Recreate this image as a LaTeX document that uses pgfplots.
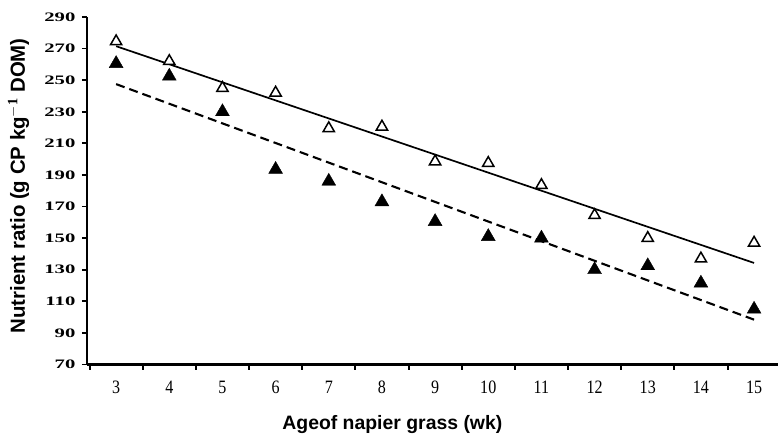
\documentclass[border=0pt]{standalone}
\usepackage{graphicx}
\usepackage{pgfplots}
\pgfplotsset{compat=1.18}
\usepackage{fontspec}
\setmainfont{Liberation Serif}
\newfontfamily\labelfont{Liberation Sans}
\begin{document}
\begin{tikzpicture}
\begin{axis}[
  name=ax,
  scale only axis,
  width=692bp, height=348bp,
  xmin=2.45, xmax=15.45,
  ymin=70, ymax=290,
  axis lines=left,
  axis line style={-, line width=2.6bp},
  ytick={70,90,...,290},
  xtick={3,...,15},
  minor xtick={2.5,3.5,...,15.5},
  major x tick style={draw=none},
  minor x tick style={line width=2bp, black},
  y tick style={line width=1.8bp, black},
  tick align=outside,
  major tick length=5bp,
  minor tick length=5bp,
  /pgf/number format/assume math mode=true,
  yticklabel={\scalebox{1.6}[1]{\pgfmathprintnumber{\tick}}},
  yticklabel style={font=\fontsize{13}{14}\selectfont\bfseries, xshift=-3bp},
  xticklabel={\scalebox{0.85}[1]{\pgfmathprintnumber{\tick}}},
  xticklabel style={font=\fontsize{19}{21}\selectfont, yshift=-8bp},
  xlabel={\labelfont\bfseries Ageof napier grass (wk)},
  ylabel={\labelfont\bfseries Nutrient ratio (g CP kg$^{\mathbf{-1}}$ DOM)},
  xlabel style={font=\fontsize{19.5}{21}\selectfont, at={(axis description cs:0.442,-0.172)}, anchor=center},
  ylabel style={font=\fontsize{20.5}{22}\selectfont, at={(axis description cs:-0.099,0.514)}, anchor=center},
  clip=false,
]
% open triangles
\addplot[only marks, mark=triangle*, mark size=6.5bp, mark options={fill=white, draw=black, line width=1.5bp}]
  coordinates {(3,274.5) (4,262) (5,245) (6,242) (7,219.5) (8,220.5) (9,198.5) (10,197.5) (11,183.5) (12,164.5) (13,150) (14,137) (15,147)};
% filled triangles
\addplot[only marks, mark=triangle*, mark size=8bp, mark options={fill=black, draw=black}]
  coordinates {(3,260.5) (4,252.5) (5,230) (6,193.5) (7,186) (8,173) (9,160.5) (10,151) (11,150) (12,130) (13,132.5) (14,121.5) (15,105)};
% regression lines
\addplot[black, line width=1.7bp] coordinates {(3,271.5) (15,134.3)};
\addplot[black, line width=2.1bp, dash pattern=on 9bp off 5bp] coordinates {(3,247.5) (15,98.4)};
\end{axis}
\pgfresetboundingbox
\path[use as bounding box] ([xshift=-87bp,yshift=-73bp]ax.south west) rectangle ([xshift=1bp,yshift=17bp]ax.north east);
\end{tikzpicture}
\end{document}
